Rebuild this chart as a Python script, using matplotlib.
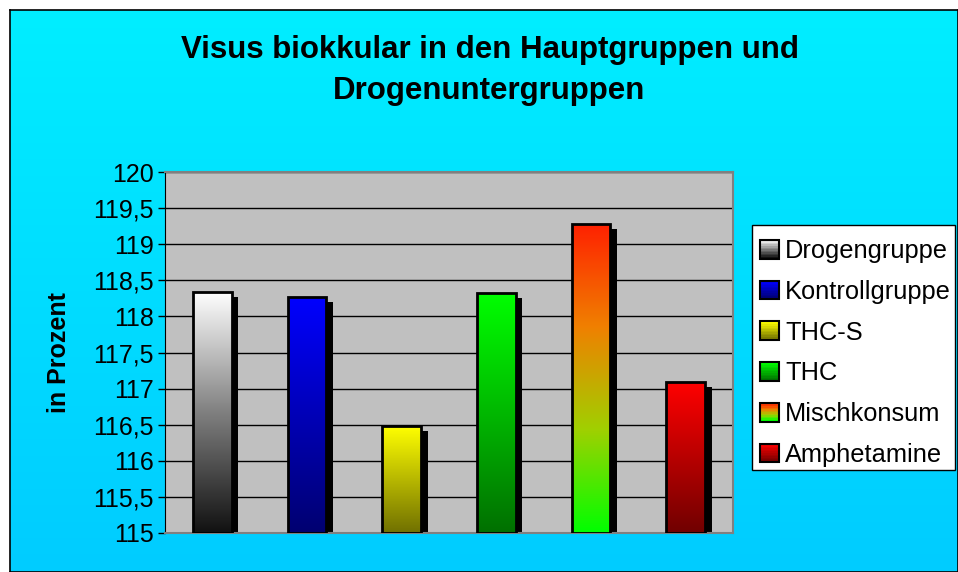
import numpy as np
import matplotlib
matplotlib.use("Agg")
import matplotlib.pyplot as plt
from matplotlib.colors import LinearSegmentedColormap
from matplotlib.patches import Rectangle
from matplotlib.legend_handler import HandlerBase

plt.rcParams['font.family'] = ['Liberation Sans', 'DejaVu Sans']

groups = ["Drogengruppe", "Kontrollgruppe", "THC-S", "THC", "Mischkonsum", "Amphetamine"]
values = [118.34, 118.27, 116.48, 118.32, 119.28, 117.09]
# farbverlauf jeder saeule (unten -> oben)
grad_colors = [
    ["#111111", "#808080", "#ffffff"],
    ["#000070", "#0000ff"],
    ["#707000", "#ffff00"],
    ["#007000", "#00ff00"],
    ["#00ff00", "#a0d000", "#f08000", "#ff2000"],
    ["#700000", "#ff0000"],
]
yticks = [115, 115.5, 116, 116.5, 117, 117.5, 118, 118.5, 119, 119.5, 120]
ylabels = ["115", "115,5", "116", "116,5", "117", "117,5", "118", "118,5", "119", "119,5", "120"]

fig = plt.figure(figsize=(9.58, 5.72), dpi=100)
fig.patch.set_facecolor("white")

# hintergrund mit verlauf
bg = fig.add_axes([10 / 958, 0, 948 / 958, 562 / 572], zorder=0)
grad = np.linspace(0, 1, 256).reshape(-1, 1)
bg_cmap = LinearSegmentedColormap.from_list("bg", ["#00ccff", "#00eeff"])
bg.imshow(grad, cmap=bg_cmap, aspect="auto", origin="lower", extent=[0, 1, 0, 1])
bg.set_xticks([])
bg.set_yticks([])
for s in bg.spines.values():
    s.set_color("black")
    s.set_linewidth(1.2)

ax = fig.add_axes([165 / 958, 39 / 572, 568 / 958, 361 / 572], zorder=1)
ax.set_facecolor("#c0c0c0")
x = np.arange(len(groups))
w = 0.41
ax.set_yticks(yticks)
ax.set_yticklabels(ylabels, fontsize=18)
ax.set_xticks([])
ax.yaxis.grid(True, color="black", linewidth=1)
ax.set_axisbelow(True)
ax.tick_params(axis="y", length=5, width=1, color="black", pad=3)
for k in ["top", "right", "bottom"]:
    ax.spines[k].set_color("#808080")
    ax.spines[k].set_linewidth(1.5)
ax.spines["left"].set_color("black")

dx, dy = 0.07, 0.07
for i, v in enumerate(values):
    # schatten
    ax.add_patch(Rectangle((x[i] - w / 2 + dx, 115), w, v - 115 - dy, facecolor="black",
                           edgecolor="none", zorder=2))
    rect = Rectangle((x[i] - w / 2, 115), w, v - 115, facecolor="none", edgecolor="black",
                     linewidth=2, zorder=4)
    ax.add_patch(rect)
    cm = LinearSegmentedColormap.from_list("g%d" % i, grad_colors[i])
    im = ax.imshow(grad, cmap=cm, aspect="auto", origin="lower",
                   extent=[x[i] - w / 2, x[i] + w / 2, 115, v], zorder=3)
    im.set_clip_path(rect)
ax.set_xlim(-0.5, len(groups) - 0.5)
ax.set_ylim(115, 120)

ax.set_ylabel("in Prozent", fontsize=18, fontweight="bold", labelpad=16)

fig.text(0.511, 0.877, "Visus biokkular in den Hauptgruppen und\nDrogenuntergruppen",
         ha="center", va="center", fontsize=22.5, fontweight="bold", linespacing=1.45)


class GradHandler(HandlerBase):
    def __init__(self, colors):
        super().__init__()
        self.colors = colors

    def create_artists(self, legend, orig_handle, xdescent, ydescent, width, height, fontsize, trans):
        cm = LinearSegmentedColormap.from_list("lg", self.colors)
        size = height * 1.05
        x0 = -xdescent + (width - size) / 2
        y0 = -ydescent + (height - size) / 2
        n = 12
        arts = []
        for j in range(n):
            r = Rectangle((x0, y0 + size * j / n), size, size / n + 0.3,
                          facecolor=cm(j / (n - 1)), edgecolor="none", transform=trans)
            arts.append(r)
        arts.append(Rectangle((x0, y0), size, size, facecolor="none", edgecolor="black",
                              linewidth=1.5, transform=trans))
        return arts


# legendenrahmen
fig.patches.append(Rectangle((752 / 958, 1 - 470 / 572), 203 / 958, 245 / 572,
                             transform=fig.transFigure, facecolor="white",
                             edgecolor="black", linewidth=1, zorder=4))

handles = [Rectangle((0, 0), 1, 1) for _ in groups]
hmap = {h: GradHandler(c) for h, c in zip(handles, grad_colors)}
leg = fig.legend(handles, groups, handler_map=hmap, loc="center left",
                 bbox_to_anchor=(759 / 958, 1 - 353 / 572), fontsize=18.3, frameon=False,
                 labelspacing=0.66, handlelength=0.82, handletextpad=0.2,
                 borderpad=0, borderaxespad=0)
leg.set_zorder(5)

fig.savefig("out.png", dpi=100)
